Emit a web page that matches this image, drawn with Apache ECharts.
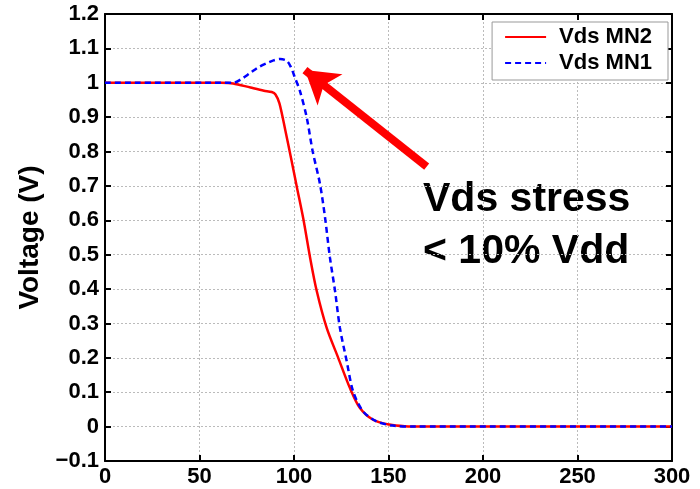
<!DOCTYPE html>
<html><head><meta charset="utf-8">
<script src="https://cdn.jsdelivr.net/npm/echarts@6/dist/echarts.min.js"></script>
<style>html,body{margin:0;padding:0;background:#fff}#c{width:700px;height:489px}</style>
</head><body><div id="c"></div>
<script>
const xTicks = [0, 50, 100, 150, 200, 250, 300];
const yTicks = [-0.1, 0, 0.1, 0.2, 0.3, 0.4, 0.5, 0.6, 0.7, 0.8, 0.9, 1, 1.1, 1.2];
const mn2Time = [0, 61.7, 67.8, 77, 84.1, 88.2, 90.2, 92.3, 95.4, 98.4, 101.5, 104.9, 108.5, 112, 117.3, 123.4, 129.6, 134.9, 141.8, 150.4, 158.6, 168.8, 300];
const mn2Volt = [1, 1, 0.998, 0.986, 0.977, 0.973, 0.966, 0.94, 0.862, 0.782, 0.697, 0.605, 0.492, 0.395, 0.287, 0.2, 0.112, 0.054, 0.02, 0.006, 0.001, 0, 0];
const mn1Time = [0, 61.7, 67.8, 71.9, 76.7, 81.1, 85.6, 89.2, 92.6, 96.2, 98.4, 100.5, 103.2, 106.7, 109.9, 113.7, 116.4, 119, 121.7, 124.3, 127.9, 131.3, 136.6, 143.7, 152.4, 163.7, 300];
const mn1Volt = [1, 1, 1.0, 1.01, 1.028, 1.045, 1.057, 1.065, 1.069, 1.064, 1.045, 1.015, 0.975, 0.9, 0.8, 0.707, 0.609, 0.492, 0.395, 0.287, 0.19, 0.102, 0.044, 0.015, 0.003, 0, 0];
const arrowFrom = [170.2, 0.756];
const arrowTo = [105.8, 1.037];
const noteLines = ['Vds stress', '< 10% Vdd'];

const zip = (a, b) => a.map((v, i) => [v, b[i]]);
const fmtY = v => { const r = Math.round(v * 10) / 10; return r < 0 ? '\u2212' + Math.abs(r) : String(r); };
const F = 'Liberation Sans, Arial, Helvetica, sans-serif';
const lab = { fontFamily: F, fontWeight: 'bold', fontSize: 22, color: '#000' };
const axLine = { onZero: false, lineStyle: { color: '#000', width: 2 } };
const axTick = { inside: true, length: 6, lineStyle: { color: '#000', width: 2 } };
const split = { lineStyle: { color: '#bbb', type: [2, 2], width: 1 } };
const chart = echarts.init(document.getElementById('c'));
chart.setOption({
  animation: false,
  grid: { left: 105, right: 28, top: 14, bottom: 28 },
  legend: {
    right: 32, top: 22, orient: 'vertical', itemWidth: 41, itemHeight: 14, itemGap: 4,
    backgroundColor: '#fff', borderColor: '#999', borderWidth: 1, padding: [4, 16, 6, 12],
    itemStyle: { opacity: 0 },
    textStyle: { fontFamily: F, fontWeight: 'bold', fontSize: 22, color: '#000', padding: [0, 0, 0, 8] },
    data: ['Vds MN2', 'Vds MN1']
  },
  xAxis: [{
    type: 'value', min: 0, max: 300, interval: 50,
    axisLine: axLine, axisTick: axTick,
    axisLabel: Object.assign({ margin: 5 }, lab),
    splitLine: split
  }, {
    type: 'value', min: 0, max: 300, interval: 50, position: 'top',
    axisLine: axLine, axisTick: axTick, axisLabel: { show: false }, splitLine: { show: false }
  }],
  yAxis: [{
    type: 'value', min: -0.1, max: 1.2, interval: 0.1,
    name: 'Voltage (V)', nameLocation: 'middle', nameGap: 53,
    nameTextStyle: { fontFamily: F, fontWeight: 'bold', fontSize: 28, color: '#000' },
    axisLine: axLine, axisTick: axTick,
    axisLabel: Object.assign({ margin: 6, formatter: fmtY }, lab),
    splitLine: split
  }, {
    type: 'value', min: -0.1, max: 1.2, interval: 0.1, position: 'right',
    axisLine: axLine, axisTick: axTick, axisLabel: { show: false }, splitLine: { show: false }
  }],
  series: [{
    name: 'Vds MN2', type: 'line', data: zip(mn2Time, mn2Volt), symbol: 'none', smooth: 0.3,
    color: '#ff0000', lineStyle: { color: '#ff0000', width: 2.5 },
    markLine: {
      silent: true, symbol: ['none', 'arrow'], symbolSize: [30, 32],
      lineStyle: { color: '#ff0000', width: 8, type: 'solid' }, label: { show: false },
      data: [[{ coord: arrowFrom }, { coord: arrowTo }]]
    }
  }, {
    name: 'Vds MN1', type: 'line', data: zip(mn1Time, mn1Volt), symbol: 'none', smooth: 0.3,
    color: '#0000ff', lineStyle: { color: '#0000ff', width: 2.5, type: [6, 4] }
  }],
  graphic: [{
    type: 'text', left: 423, top: 174,
    style: { text: noteLines.join('\n'), font: 'bold 41px ' + F, fill: '#000', lineHeight: 52, align: 'left' }
  }]
});
</script></body></html>
